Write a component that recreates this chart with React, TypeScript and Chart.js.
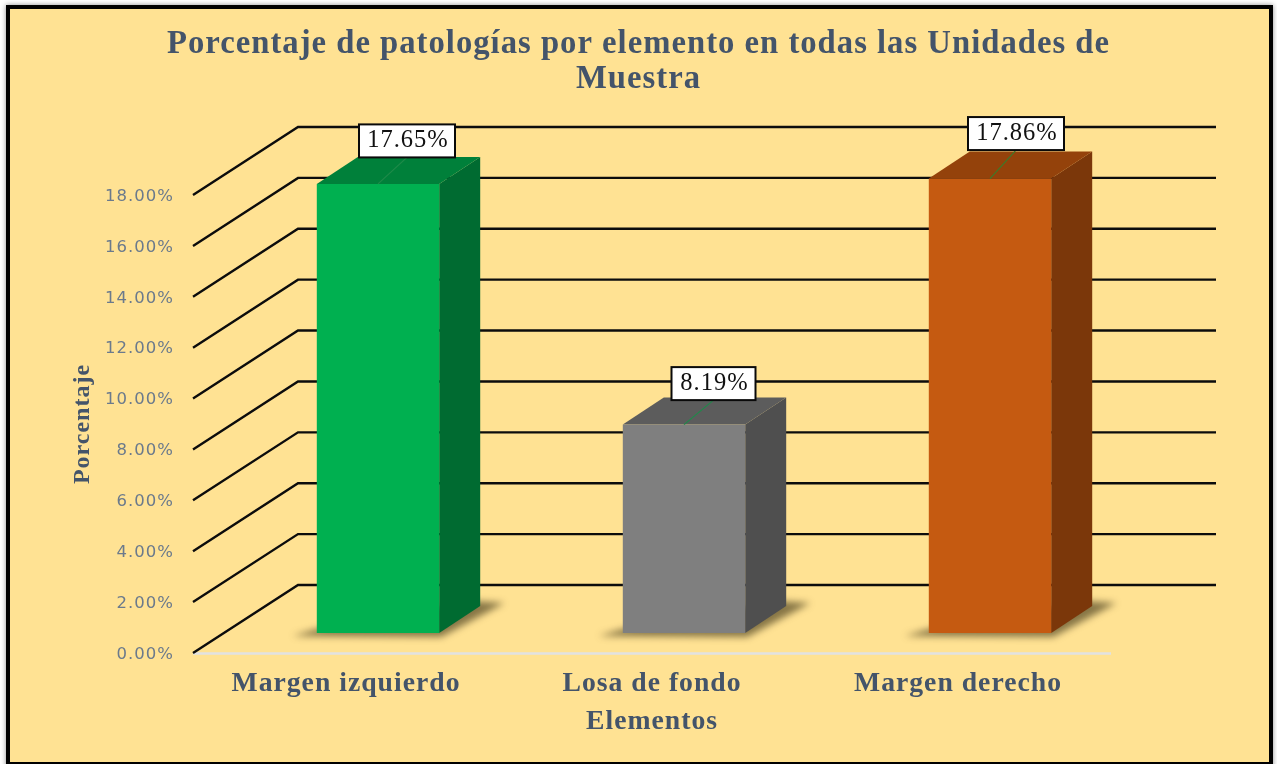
import React, { useEffect, useRef } from "react";
import { Chart, registerables } from "chart.js";

Chart.register(...registerables);

const categories = ["Margen izquierdo", "Losa de fondo", "Margen derecho"];
const percentages = [17.65, 8.19, 17.86];
const titleLines = ["Porcentaje de patologías por elemento en todas las Unidades de", "Muestra"];
const yAxisTitle = "Porcentaje";
const xAxisTitle = "Elementos";

const frontColors = ["#00b050", "#7f7f7f", "#c55a11"];
const topColors = ["#00803a", "#5c5c5c", "#94420b"];
const sideColors = ["#006b31", "#4f4f4f", "#7b370a"];
const leaderColors = ["#1f8a4a", "#1f8a4a", "#3d7a2a"];
const labelNudgeX = [1, 1.5, -2];
const labelNudgeY = [0, 2, -2];

const TEXT = "#44546a";
const TICK = "#6b7a8c";
const PAGE_FILL = "#ffe293";
const SERIF = '"Liberation Serif"';

// wall depth of the gridlines, position of the bars inside that depth, and depth of the bars
const WALL_DX = 105;
const WALL_DY = 68;
const BAR_SHIFT_X = 32;
const BAR_SHIFT_Y = 20;
const BAR_DX = 41;
const BAR_DY = 27;
const WALL_RIGHT = 1216;

const depthPlugin = {
  id: "depth",
  beforeDraw(chart: any) {
    const { ctx, width, height } = chart;
    ctx.save();
    ctx.fillStyle = "#ffffff";
    ctx.fillRect(0, 0, width, height);
    ctx.shadowColor = "rgba(0,0,0,0.45)";
    ctx.shadowBlur = 5;
    ctx.fillStyle = "#000000";
    ctx.fillRect(6, 5, 1267, 770);
    ctx.restore();
    ctx.fillStyle = PAGE_FILL;
    ctx.fillRect(10, 9, 1259, 753);
    ctx.letterSpacing = "1px";
  },
  beforeDatasetsDraw(chart: any) {
    const { ctx, chartArea } = chart;
    const y = chart.scales.y;
    ctx.save();
    ctx.strokeStyle = "#e2e2e2";
    ctx.lineWidth = 2.5;
    ctx.beginPath();
    ctx.moveTo(chartArea.left, y.getPixelForValue(0) + 0.5);
    ctx.lineTo(chartArea.right, y.getPixelForValue(0) + 0.5);
    ctx.stroke();
    ctx.strokeStyle = "#0c0c0c";
    ctx.lineWidth = 2.4;
    ctx.lineJoin = "miter";
    y.ticks.forEach((t: any) => {
      const py = y.getPixelForValue(t.value);
      ctx.beginPath();
      ctx.moveTo(chartArea.left, py);
      ctx.lineTo(chartArea.left + WALL_DX, py - WALL_DY);
      ctx.lineTo(WALL_RIGHT, py - WALL_DY);
      ctx.stroke();
    });
    ctx.restore();

    const bars = chart.getDatasetMeta(0).data;
    bars.forEach((b: any, i: number) => {
      const l = b.x - b.width / 2 + BAR_SHIFT_X;
      const r = b.x + b.width / 2 + BAR_SHIFT_X;
      const t = b.y - BAR_SHIFT_Y;
      const bot = b.base - BAR_SHIFT_Y;
      ctx.save();
      ctx.filter = "blur(3.5px)";
      ctx.fillStyle = "rgba(62,52,22,0.62)";
      ctx.beginPath();
      ctx.moveTo(l - 24, bot + 3);
      ctx.lineTo(r + 2, bot + 4);
      ctx.lineTo(r + BAR_DX + 24, bot - BAR_DY - 3);
      ctx.lineTo(r + BAR_DX - 6, bot - BAR_DY - 5);
      ctx.lineTo(l, bot - 4);
      ctx.closePath();
      ctx.fill();
      ctx.restore();
      ctx.fillStyle = sideColors[i];
      ctx.beginPath();
      ctx.moveTo(r, t);
      ctx.lineTo(r + BAR_DX, t - BAR_DY);
      ctx.lineTo(r + BAR_DX, bot - BAR_DY);
      ctx.lineTo(r, bot);
      ctx.closePath();
      ctx.fill();
      ctx.fillStyle = topColors[i];
      ctx.beginPath();
      ctx.moveTo(l, t);
      ctx.lineTo(l + BAR_DX, t - BAR_DY);
      ctx.lineTo(r + BAR_DX, t - BAR_DY);
      ctx.lineTo(r, t);
      ctx.closePath();
      ctx.fill();
    });
    ctx.save();
    ctx.translate(BAR_SHIFT_X, -BAR_SHIFT_Y);
  },
  afterDatasetsDraw(chart: any) {
    const { ctx } = chart;
    ctx.restore();
    const bars = chart.getDatasetMeta(0).data;
    bars.forEach((b: any, i: number) => {
      const cx = b.x + BAR_SHIFT_X;
      const top = b.y - BAR_SHIFT_Y;
      const boxCx = cx + 28 + labelNudgeX[i];
      const boxCy = top - 43 + labelNudgeY[i];
      const boxW = percentages[i] < 10 ? 84 : 96;
      const boxH = 33;
      ctx.save();
      ctx.strokeStyle = leaderColors[i];
      ctx.lineWidth = 1.2;
      ctx.beginPath();
      ctx.moveTo(cx, top);
      ctx.lineTo(boxCx, boxCy + boxH / 2);
      ctx.stroke();
      ctx.fillStyle = "#ffffff";
      ctx.strokeStyle = "#0a0a0a";
      ctx.lineWidth = 2;
      ctx.fillRect(boxCx - boxW / 2, boxCy - boxH / 2, boxW, boxH);
      ctx.strokeRect(boxCx - boxW / 2, boxCy - boxH / 2, boxW, boxH);
      ctx.fillStyle = "#111111";
      ctx.font = `24.5px ${SERIF}`;
      ctx.letterSpacing = "1px";
      ctx.textAlign = "center";
      ctx.textBaseline = "middle";
      ctx.fillText(`${percentages[i].toFixed(2)}%`, boxCx + 1, boxCy);
      ctx.restore();
    });
  },
};

export default function App() {
  const ref = useRef<HTMLCanvasElement | null>(null);
  useEffect(() => {
    const chart = new Chart(ref.current as HTMLCanvasElement, {
      type: "bar",
      data: {
        labels: categories,
        datasets: [
          {
            label: yAxisTitle,
            data: percentages,
            backgroundColor: frontColors,
            categoryPercentage: 1,
            barPercentage: 0.4,
            clip: false as any,
          },
        ],
      },
      options: {
        responsive: false,
        animation: false,
        plugins: {
          legend: { display: false },
          tooltip: { enabled: false },
          title: {
            display: true,
            text: titleLines,
            color: TEXT,
            font: { family: SERIF, size: 32.7, weight: "bold", lineHeight: 35 / 32.7 },
            padding: { top: 27, bottom: 98 },
          },
        },
        scales: {
          x: {
            grid: { display: false, drawTicks: false },
            border: { display: false },
            ticks: {
              color: TEXT,
              font: { family: SERIF, size: 27.7, weight: "bold" },
              padding: 14,
              maxRotation: 0,
              autoSkip: false,
            },
            title: {
              display: true,
              text: xAxisTitle,
              color: TEXT,
              font: { family: SERIF, size: 27.7, weight: "bold" },
              padding: { top: 4, bottom: 26 },
            },
            afterFit(scale: any) {
              scale.height = 111;
            },
          },
          y: {
            min: 0,
            max: 18,
            grid: { display: false, drawTicks: false },
            border: { display: false },
            ticks: {
              stepSize: 2,
              color: TICK,
              font: { family: '"DejaVu Sans"', size: 16.5 },
              padding: 19,
              labelOffset: 1.5,
              callback: (v: any) => `${Number(v).toFixed(2)}%`,
            },
            title: {
              display: true,
              text: yAxisTitle,
              color: TEXT,
              font: { family: SERIF, size: 24, weight: "bold" },
              padding: { top: 68, bottom: 0 },
            },
            afterFit(scale: any) {
              scale.width = 193;
            },
          },
          spacer: {
            position: "right",
            grid: { display: false, drawTicks: false },
            border: { display: false },
            ticks: { display: false },
            afterFit(scale: any) {
              scale.width = 166;
            },
          },
        },
      },
      plugins: [depthPlugin],
    } as any);
    return () => chart.destroy();
  }, []);
  return (
    <canvas
      ref={ref}
      width={1277}
      height={764}
      style={{ position: "absolute", left: 0, top: 0, display: "block" }}
    />
  );
}
